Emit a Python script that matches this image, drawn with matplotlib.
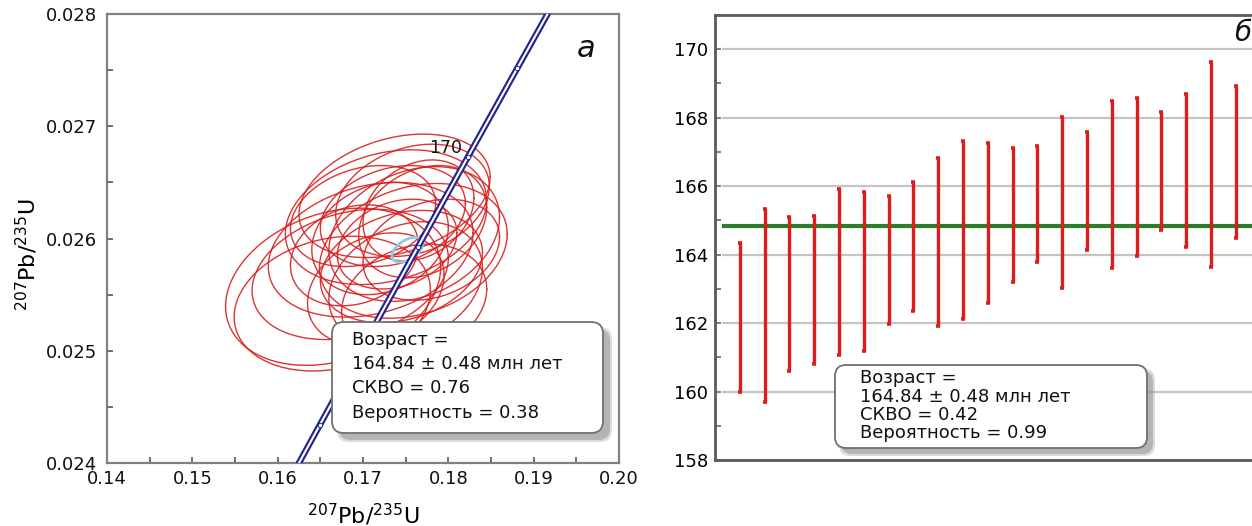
import numpy as np
import matplotlib
matplotlib.use('Agg')
import matplotlib.pyplot as plt
from matplotlib.patches import FancyBboxPatch
from matplotlib.transforms import IdentityTransform
from matplotlib.ticker import MultipleLocator, FormatStrFormatter

plt.rcParams['font.family'] = ['DejaVu Sans']
plt.rcParams['mathtext.fontset'] = 'dejavusans'

# ---------------- data: panel a (concordia) ----------------
ell_x   = [0.1665, 0.1664, 0.1685, 0.1709, 0.1727, 0.1737, 0.1759, 0.1760, 0.1758, 0.1735, 0.1745,
           0.1720, 0.1770, 0.1750, 0.1760, 0.1700, 0.1765, 0.1715, 0.1740, 0.1690, 0.1780]
ell_sx  = [0.0126, 0.0115, 0.0115, 0.0120, 0.0118, 0.0112, 0.0110, 0.0100, 0.0090, 0.0085, 0.0095,
           0.0080, 0.0075, 0.0090, 0.0085, 0.0085, 0.0065, 0.0080, 0.0070, 0.0075, 0.0080]
ell_y   = [0.02557, 0.02542, 0.02568, 0.02590, 0.02619, 0.02638, 0.02589, 0.02604, 0.02634, 0.02620, 0.02575,
           0.02600, 0.02615, 0.02560, 0.02545, 0.02620, 0.02625, 0.02555, 0.02595, 0.02585, 0.02590]
ell_sy  = [0.00070, 0.00060, 0.00058, 0.00060, 0.00060, 0.00055, 0.00060, 0.00060, 0.00050, 0.00045, 0.00050,
           0.00050, 0.00050, 0.00055, 0.00050, 0.00045, 0.00045, 0.00050, 0.00040, 0.00045, 0.00045]
ell_rho = [0.25, 0.20, 0.25, 0.25, 0.25, 0.30, 0.25, 0.25, 0.25, 0.25, 0.25,
           0.20, 0.25, 0.25, 0.20, 0.25, 0.25, 0.25, 0.25, 0.20, 0.25]

mean_x, mean_sx, mean_y, mean_sy, mean_rho = 0.1752, 0.0018, 0.02590, 0.00011, 0.5

LAMBDA_238 = 1.55125e-10   # 1/yr
LAMBDA_235 = 9.8485e-10    # 1/yr
conc_ages = np.arange(145.0, 185.5, 0.5)   # Ma
conc_mark_ages = [155, 160, 165, 170, 175]
conc_label_age = 170

box_a_lines = ["Возраст =", "164.84 ± 0.48 млн лет", "СКВО = 0.76", "Вероятность = 0.38"]

# ---------------- data: panel б (weighted mean) ----------------
bar_top = [164.35, 165.33, 165.10, 165.12, 165.92, 165.84, 165.70, 166.11, 166.82, 167.31, 167.27,
           167.12, 167.17, 168.01, 167.59, 168.49, 168.57, 168.18, 168.68, 169.62, 168.92]
bar_bottom = [160.00, 159.68, 160.60, 160.79, 161.08, 161.19, 161.97, 162.36, 161.90, 162.11, 162.60,
              163.20, 163.77, 163.03, 164.14, 163.61, 163.95, 164.73, 164.23, 163.65, 164.48]
mean_age = 164.84
box_b_lines = ["Возраст =", "164.84 ± 0.48 млн лет", "СКВО = 0.42", "Вероятность = 0.99"]


def ellipse_pts(cx, sx, cy, sy, rho, n=240):
    t = np.linspace(0, 2 * np.pi, n)
    return cx + sx * np.cos(t), cy + sy * (rho * np.cos(t) + np.sqrt(1 - rho ** 2) * np.sin(t))


W, H = 1252, 526
fig = plt.figure(figsize=(W / 100, H / 100), dpi=100)
fig.patch.set_facecolor('white')

# ================= panel a =================
ax1 = fig.add_axes([107 / W, 1 - 463 / H, 512 / W, 449 / H])
ax1.set_xlim(0.14, 0.20)
ax1.set_ylim(0.024, 0.028)

for cx, sx, cy, sy, r in zip(ell_x, ell_sx, ell_y, ell_sy, ell_rho):
    ex, ey = ellipse_pts(cx, sx, cy, sy, r)
    ax1.plot(ex, ey, color='#d91e1e', lw=1.0, alpha=0.9, zorder=3)

ex, ey = ellipse_pts(mean_x, mean_sx, mean_y, mean_sy, mean_rho)
ax1.plot(ex, ey, color='#8ccbe6', lw=2.0, zorder=4)

tt = conc_ages * 1e6
cx_ = np.exp(LAMBDA_235 * tt) - 1
cy_ = np.exp(LAMBDA_238 * tt) - 1
ax1.plot(cx_, cy_, color='#23238c', lw=4.6, zorder=5, solid_capstyle='butt')
ax1.plot(cx_, cy_, color='white', lw=1.5, zorder=6, solid_capstyle='butt')

mt = np.array(conc_mark_ages) * 1e6
ax1.plot(np.exp(LAMBDA_235 * mt) - 1, np.exp(LAMBDA_238 * mt) - 1, 'o', ms=3.2,
         mfc='white', mec='#23238c', mew=0.7, zorder=7)

lt = conc_label_age * 1e6
ax1.annotate(str(conc_label_age), (np.exp(LAMBDA_235 * lt) - 1, np.exp(LAMBDA_238 * lt) - 1),
             xytext=(-4, 0), textcoords='offset points', ha='right', va='bottom',
             fontsize=12.5, color='#111111', zorder=8)

ax1.xaxis.set_major_locator(MultipleLocator(0.01))
ax1.xaxis.set_minor_locator(MultipleLocator(0.005))
ax1.yaxis.set_major_locator(MultipleLocator(0.001))
ax1.yaxis.set_minor_locator(MultipleLocator(0.0005))
ax1.xaxis.set_major_formatter(FormatStrFormatter('%.2f'))
ax1.yaxis.set_major_formatter(FormatStrFormatter('%.3f'))
ax1.tick_params(which='both', direction='in', length=4, width=1.2, color='#555555',
                top=False, right=False)
ax1.tick_params(axis='both', which='major', labelsize=13, colors='#555555', labelcolor='#111111')
ax1.tick_params(axis='y', which='major', pad=7)
ax1.tick_params(axis='x', which='major', pad=5)
for s in ax1.spines.values():
    s.set_color('#808080')
    s.set_linewidth(1.6)

ax1.text(0.955, 0.955, 'а', transform=ax1.transAxes, fontsize=22, style='italic',
         ha='right', va='top', color='#111111')

fig.text(363 / W, 1 - 502 / H, r'$^{207}$Pb/$^{235}$U', ha='center', va='top', fontsize=16)
fig.text(27 / W, 1 - 255 / H, r'$^{207}$Pb/$^{235}$U', ha='center', va='center',
         rotation=90, fontsize=16)

# ================= panel б =================
ax2 = fig.add_axes([715 / W, 1 - 460 / H, 549 / W, 445 / H])
xmax = 549 / 24.8
ax2.set_xlim(0, xmax)
ax2.set_ylim(158, 171)
xs = np.arange(1, len(bar_top) + 1)
top = np.array(bar_top)
bot = np.array(bar_bottom)
mid = (top + bot) / 2
half = (top - bot) / 2

for g in range(160, 171, 2):
    ax2.hlines(g, 0.28, xmax, color='#c4c4c4', lw=1.6, zorder=1)
ax2.hlines(mean_age, 0.28, xmax, color='#2e7d2a', lw=3.0, zorder=3)
ax2.errorbar(xs, mid, yerr=half, fmt='none', ecolor='#e01b1b', elinewidth=2.4,
             capsize=1.6, capthick=2.6, zorder=4)

ax2.set_xticks([])
ax2.yaxis.set_major_locator(MultipleLocator(2))
ax2.yaxis.set_minor_locator(MultipleLocator(1))
ax2.tick_params(axis='y', which='both', direction='in', length=4, width=1.2, color='#666666')
ax2.tick_params(axis='y', which='major', labelsize=13, pad=5)
for s in ax2.spines.values():
    s.set_color('#5a5a5a')
    s.set_linewidth(2.0)

fig.text(1234 / W, 1 - 33 / H, 'б', fontsize=20, style='italic', ha='left', va='center',
         color='#111111')


# ================= text boxes =================
def shadow_box(x0, ytop, x1, ybot, r=12, off=7):
    yb = H - ybot
    w = x1 - x0
    h = ybot - ytop
    for a, d in [(0.35, 2), (0.6, 0)]:
        sh = FancyBboxPatch((x0 + off - d, yb - off - d), w + 2 * d, h + 2 * d,
                            boxstyle=f"round,pad=0,rounding_size={r}",
                            transform=IdentityTransform(), facecolor='#9a9a9a',
                            edgecolor='none', alpha=a, zorder=20)
        fig.add_artist(sh)
    bx = FancyBboxPatch((x0, yb), w, h, boxstyle=f"round,pad=0,rounding_size={r}",
                        transform=IdentityTransform(), facecolor='white',
                        edgecolor='#707070', lw=1.3, zorder=21)
    fig.add_artist(bx)


shadow_box(332, 322, 603, 433)
for line, yy in zip(box_a_lines, [340, 364, 388, 413]):
    fig.text(352 / W, 1 - yy / H, line, fontsize=13, ha='left', va='center',
             color='#111111', zorder=22)

shadow_box(835, 365, 1147, 448, r=11, off=6)
for line, yy in zip(box_b_lines, [378, 397, 415, 433]):
    fig.text(860 / W, 1 - yy / H, line, fontsize=13, ha='left', va='center',
             color='#111111', zorder=22)

fig.savefig('out.png', dpi=100, facecolor='white')
